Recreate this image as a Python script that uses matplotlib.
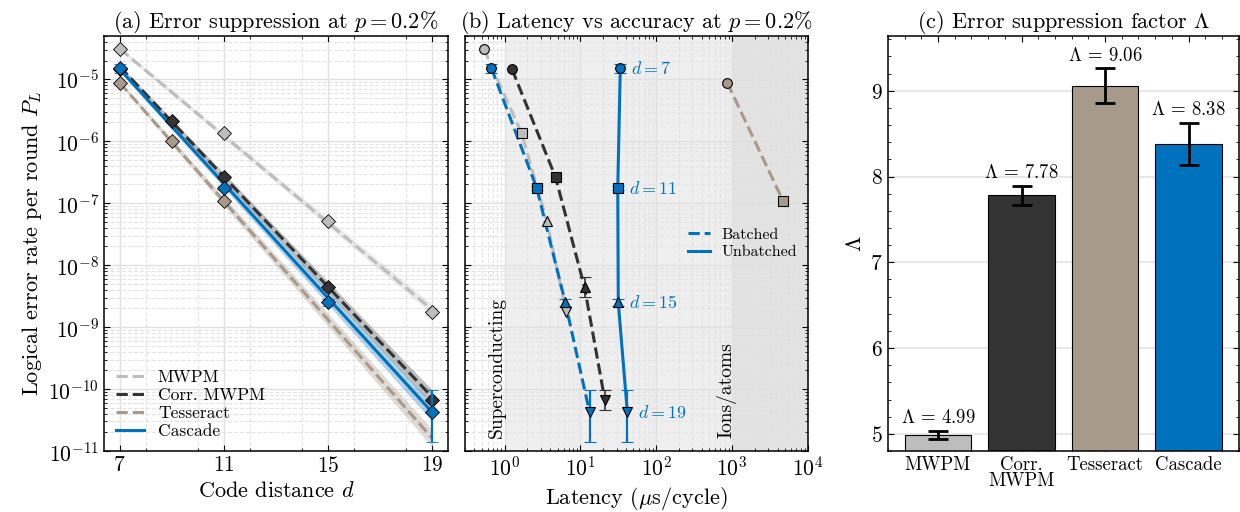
import matplotlib
matplotlib.use("Agg")
import matplotlib.pyplot as plt
from matplotlib.lines import Line2D
from matplotlib.ticker import MultipleLocator, LogLocator, NullFormatter, AutoMinorLocator

plt.rcParams.update({
    "font.family": "serif",
    "font.serif": ["cmr10"],
    "mathtext.fontset": "cm",
    "axes.formatter.use_mathtext": True,
    "axes.unicode_minus": False,
    "xtick.direction": "in",
    "ytick.direction": "in",
    "xtick.top": True,
    "ytick.right": True,
    "xtick.minor.visible": True,
    "ytick.minor.visible": True,
    "xtick.major.size": 4.5,
    "ytick.major.size": 4.5,
    "xtick.minor.size": 2.2,
    "ytick.minor.size": 2.2,
    "axes.linewidth": 1.1,
})

# Palette
C_MWPM = "#bdbdbd"
C_CORR = "#333333"
C_TESS = "#a89a8a"
C_CASC = "#0072bd"

# --- (a) logical error rate vs distance ---
mwpm_d = [7, 11, 15, 19]
mwpm_pl = [3.1e-5, 1.35e-6, 5.1e-8, 1.75e-9]
corr_d = [7, 9, 11, 15, 19]
corr_pl = [1.45e-5, 2.1e-6, 2.6e-7, 4.4e-9, 6.6e-11]
tess_d = [7, 9, 11]
tess_pl = [8.8e-6, 1.02e-6, 1.08e-7]
casc_d = [7, 11, 15, 19]
casc_pl = [1.5e-5, 1.75e-7, 2.5e-9, 4.2e-11]
casc_err_lo = [2.5e-6, 1.5e-8, 3e-10, 2.8e-11]
casc_err_hi = [2.5e-6, 1.5e-8, 3e-10, 5.3e-11]

# fitted lines and bands (values at d=7 and d=19)
fit_d = [7, 19]
mwpm_fit = [3.1e-5, 1.9e-9]
mwpm_band_lo = [2.9e-5, 1.6e-9]
mwpm_band_hi = [3.3e-5, 2.3e-9]
corr_fit = [1.6e-5, 7.4e-11]
corr_band_lo = [1.5e-5, 5.6e-11]
corr_band_hi = [1.7e-5, 9.6e-11]
tess_fit = [8.8e-6, 1.6e-11]
tess_band_lo = [8.2e-6, 1.15e-11]
tess_band_hi = [9.4e-6, 2.2e-11]
casc_fit = [1.45e-5, 4.2e-11]
casc_band_lo = [1.35e-5, 3.0e-11]
casc_band_hi = [1.55e-5, 5.8e-11]

# --- (b) latency vs accuracy ---
mwpm_lat = [0.53, 1.67, 3.6, 6.5]
corr_lat = [1.25, 4.7, 11.3, 21.0]
corr_lat_pl = [1.45e-5, 2.6e-7, 4.4e-9, 6.6e-11]
tess_lat = [860, 4700]
tess_lat_pl = [8.8e-6, 1.08e-7]
casc_batched = [0.67, 2.65, 6.3, 13.2]
casc_unbatched = [33.5, 31.0, 31.5, 41.5]
marks = ["o", "s", "^", "v"]

# --- (c) Lambda ---
decoders = ["MWPM", "Corr.\nMWPM", "Tesseract", "Cascade"]
lam = [4.99, 7.78, 9.06, 8.38]
lam_err = [0.045, 0.115, 0.2, 0.245]
bar_colors = [C_MWPM, C_CORR, C_TESS, C_CASC]

FS = 16
PL_TICKS = [1e-11, 1e-10, 1e-9, 1e-8, 1e-7, 1e-6, 1e-5]
LAT_TICKS = [1e0, 1e1, 1e2, 1e3, 1e4]

fig = plt.figure(figsize=(12.4, 5.12), dpi=100)
ax_a = fig.add_axes([0.0839, 0.119, 0.2774, 0.811])
ax_b = fig.add_axes([0.375, 0.119, 0.2766, 0.811], sharey=ax_a)
ax_c = fig.add_axes([0.716, 0.119, 0.283, 0.811])


def loggrid(ax):
    ax.set_axisbelow(True)
    ax.grid(True, which="major", color="#e0e0e0", lw=1.0, ls="-")
    ax.grid(True, which="minor", color="#e4e4e4", lw=0.8, ls="--")


# ===== panel (a) =====
ax = ax_a
ax.set_yscale("log")
for fit, lo, hi, c, ls, a in [
    (mwpm_fit, mwpm_band_lo, mwpm_band_hi, C_MWPM, "--", 0.3),
    (corr_fit, corr_band_lo, corr_band_hi, C_CORR, "--", 0.3),
    (tess_fit, tess_band_lo, tess_band_hi, C_TESS, "--", 0.35),
    (casc_fit, casc_band_lo, casc_band_hi, C_CASC, "-", 0.3),
]:
    ax.fill_between(fit_d, lo, hi, color=c, alpha=a, lw=0, zorder=1)
    ax.plot(fit_d, fit, ls=ls, color=c, lw=2.2, zorder=2)

mk = dict(marker="D", ms=7, mec="black", mew=0.6, ls="none", zorder=4)
ax.errorbar(mwpm_d, mwpm_pl, yerr=[[0, 0, 0, 2e-10], [0, 0, 0, 2.5e-10]],
            color=C_MWPM, mfc=C_MWPM, capsize=4, elinewidth=1.2, **mk)
ax.plot(corr_d, corr_pl, color=C_CORR, mfc=C_CORR, **mk)
ax.plot(tess_d, tess_pl, color=C_TESS, mfc=C_TESS, **mk)
ax.errorbar(casc_d, casc_pl, yerr=[casc_err_lo, casc_err_hi], color=C_CASC,
            mfc=C_CASC, capsize=4, elinewidth=1.6, **mk)

ax.set_xlim(6.4, 19.6)
ax.set_ylim(1e-11, 5e-5)
ax.set_xticks([7, 11, 15, 19])
ax.xaxis.set_minor_locator(MultipleLocator(2))
ax.set_yticks(PL_TICKS)
ax.yaxis.set_minor_locator(LogLocator(base=10, subs=range(2, 10), numticks=20))
ax.yaxis.set_minor_formatter(NullFormatter())
loggrid(ax)
ax.tick_params(labelsize=FS - 0.5)
ax.set_xlabel("Code distance $d$", fontsize=FS)
ax.set_ylabel("Logical error rate per round $P_L$", fontsize=FS, labelpad=3)
ax.set_title("(a) Error suppression at $p = 0.2\\%$", fontsize=FS, pad=6)
leg_a = [
    Line2D([], [], color=C_MWPM, ls="--", lw=2.2, label="MWPM"),
    Line2D([], [], color=C_CORR, ls="--", lw=2.2, label="Corr. MWPM"),
    Line2D([], [], color=C_TESS, ls="--", lw=2.2, label="Tesseract"),
    Line2D([], [], color=C_CASC, ls="-", lw=2.2, label="Cascade"),
]
ax.legend(handles=leg_a, loc="lower left", frameon=False, fontsize=12.5,
          handlelength=1.6, borderaxespad=0.3, labelspacing=0.15,
          handletextpad=0.8)

# ===== panel (b) =====
ax = ax_b
ax.set_xscale("log")
ax.axvspan(1, 1e3, color="#efefef", zorder=0, lw=0)
ax.axvspan(1e3, 1e4, color="#e2e2e2", zorder=0, lw=0)

ax.plot(mwpm_lat, mwpm_pl, ls="--", color=C_MWPM, lw=2.2, zorder=2)
ax.plot(corr_lat, corr_lat_pl, ls="--", color=C_CORR, lw=2.2, zorder=2)
ax.plot(tess_lat, tess_lat_pl, ls="--", color=C_TESS, lw=2.2, zorder=2)
ax.plot(casc_batched, casc_pl, ls="--", color=C_CASC, lw=2.2, zorder=2)
ax.plot(casc_unbatched, casc_pl, ls="-", color=C_CASC, lw=2.2, zorder=2)

pm = dict(ms=7, mec="black", mew=0.8, ls="none", zorder=4)
for i in range(4):
    ax.plot(mwpm_lat[i], mwpm_pl[i], marker=marks[i], mfc=C_MWPM, **pm)
    ax.errorbar(corr_lat[i], corr_lat_pl[i],
                yerr=[[corr_lat_pl[i] * 0.3], [corr_lat_pl[i] * 0.45]] if i >= 2 else None,
                marker=marks[i], mfc=C_CORR, color=C_CORR, capsize=4,
                elinewidth=1.2, **pm)
    ax.errorbar(casc_batched[i], casc_pl[i], yerr=[[casc_err_lo[i]], [casc_err_hi[i]]],
                marker=marks[i], mfc=C_CASC, color=C_CASC, capsize=4,
                elinewidth=1.6, **pm)
    ax.errorbar(casc_unbatched[i], casc_pl[i], yerr=[[casc_err_lo[i]], [casc_err_hi[i]]],
                marker=marks[i], mfc=C_CASC, color=C_CASC, capsize=4,
                elinewidth=1.6, **pm)
    ax.annotate(f"$d = {casc_d[i]}$", (casc_unbatched[i], casc_pl[i]),
                xytext=(8, 0), textcoords="offset points", va="center",
                ha="left", color=C_CASC, fontsize=13)
for i in range(2):
    ax.plot(tess_lat[i], tess_lat_pl[i], marker=marks[i], mfc=C_TESS, **pm)

ax.text(0.78, 1.6e-11, "Superconducting", rotation=90, ha="center",
        va="bottom", fontsize=14)
ax.text(830, 1.6e-11, "Ions/atoms", rotation=90, ha="center",
        va="bottom", fontsize=14)

ax.set_xlim(0.3, 1e4)
ax.set_xticks(LAT_TICKS)
ax.xaxis.set_minor_locator(LogLocator(base=10, subs=range(2, 10), numticks=20))
ax.xaxis.set_minor_formatter(NullFormatter())
loggrid(ax)
ax.tick_params(labelsize=FS - 0.5)
ax.tick_params(axis="y", labelleft=False)
ax.set_xlabel("Latency ($\\mu$s/cycle)", fontsize=FS)
ax.set_title("(b) Latency vs accuracy at $p = 0.2\\%$", fontsize=FS, pad=6)
leg_b = [
    Line2D([], [], color=C_CASC, ls="--", lw=2.2, label="Batched"),
    Line2D([], [], color=C_CASC, ls="-", lw=2.2, label="Unbatched"),
]
ax.legend(handles=leg_b, loc="center right", frameon=False, fontsize=11.5,
          handlelength=1.4, labelspacing=0.2, borderaxespad=0.3,
          handletextpad=0.7)

# ===== panel (c) =====
ax = ax_c
xs = range(len(decoders))
ax.bar(xs, lam, width=0.8, color=bar_colors, edgecolor="black", lw=0.8, zorder=2)
ax.errorbar(xs, lam, yerr=lam_err, fmt="none", ecolor="black", elinewidth=2,
            capsize=7, capthick=2, zorder=3)
for x, v, e in zip(xs, lam, lam_err):
    ax.text(x, v + e + 0.04, f"$\\Lambda$ = {v:.2f}", ha="center", va="bottom",
            fontsize=13.5)
ax.set_xlim(-0.6, 3.6)
ax.set_ylim(4.8, 9.64)
ax.set_xticks(list(xs))
ax.set_xticklabels(decoders, fontsize=13.5, linespacing=0.85)
ax.xaxis.set_minor_locator(MultipleLocator(0.2))
ax.yaxis.set_minor_locator(AutoMinorLocator(5))
ax.set_axisbelow(True)
ax.grid(True, axis="y", which="major", color="#e2e2e2", lw=1.1)
ax.tick_params(labelsize=FS - 0.5)
ax.tick_params(axis="x", labelsize=13.5)
ax.set_ylabel("$\\Lambda$", fontsize=FS)
ax.set_title("(c) Error suppression factor $\\Lambda$", fontsize=FS, pad=6)

fig.savefig("out.png", dpi=100, facecolor="white")
